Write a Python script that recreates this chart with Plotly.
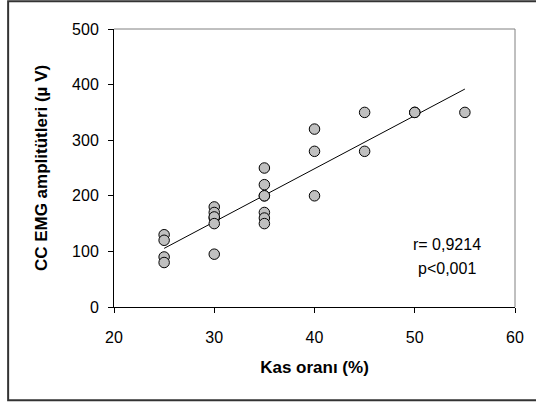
import numpy as np
import plotly.graph_objects as go

# Data
kas_orani = [25, 25, 25, 25,
             30, 30, 30, 30, 30, 30,
             35, 35, 35, 35, 35, 35, 35,
             40, 40, 40,
             45, 45,
             50, 50,
             55]
emg_amp = [130, 120, 90, 80,
           180, 170, 160, 162, 150, 95,
           250, 220, 200, 200, 170, 160, 150,
           320, 280, 200,
           350, 280,
           350, 350,
           350]
r_text = "r= 0,9214"
p_text = "p<0,001"

x_arr = np.array(kas_orani, dtype=float)
y_arr = np.array(emg_amp, dtype=float)
slope, intercept = np.polyfit(x_arr, y_arr, 1)
fit_x = [x_arr.min(), x_arr.max()]
fit_y = [slope * v + intercept for v in fit_x]

fig = go.Figure()
fig.add_trace(go.Scatter(x=fit_x, y=fit_y, mode="lines",
                         line=dict(color="black", width=1), showlegend=False))
fig.add_trace(go.Scatter(x=kas_orani, y=emg_amp, mode="markers",
                         marker=dict(size=10.5, color="#C0C0C0",
                                     line=dict(color="black", width=1)),
                         showlegend=False))

font_family = "Liberation Sans, Arial, sans-serif"

fig.update_layout(
    width=536, height=402,
    margin=dict(l=114, r=17, t=29, b=95),
    paper_bgcolor="white", plot_bgcolor="white",
    font=dict(family=font_family, color="black", size=16),
    xaxis=dict(range=[20, 60], tickvals=[20, 30, 40, 50, 60],
               showgrid=False, zeroline=False,
               showline=True, linecolor="black", linewidth=1,
               ticks="outside", ticklen=5, tickcolor="black",
               ticklabelstandoff=11,
               tickfont=dict(size=16),
               title=dict(text="<b>Kas oranı (%)</b>", font=dict(size=17), standoff=15)),
    yaxis=dict(range=[0, 500], tickvals=[0, 100, 200, 300, 400, 500],
               showgrid=False, zeroline=False,
               showline=True, linecolor="black", linewidth=1,
               ticks="outside", ticklen=5, tickcolor="black",
               ticklabelstandoff=6,
               tickfont=dict(size=16),
               title=dict(text="<b>CC EMG amplitütleri (µ V)</b>", font=dict(size=17), standoff=20)),
    shapes=[
        dict(type="line", xref="paper", yref="paper", x0=0, x1=1, y0=1, y1=1,
             line=dict(color="#808080", width=1)),
        dict(type="line", xref="paper", yref="paper", x0=1, x1=1, y0=0, y1=1,
             line=dict(color="#808080", width=1)),
        dict(type="rect", xref="paper", yref="paper",
             x0=-0.264, x1=1.06, y0=-0.335, y1=1.1,
             line=dict(color="#333333", width=2), fillcolor="rgba(0,0,0,0)", layer="below"),
    ],
    annotations=[
        dict(x=53.2, y=112, xref="x", yref="y", text=r_text, showarrow=False,
             font=dict(size=16)),
        dict(x=53.2, y=70, xref="x", yref="y", text=p_text, showarrow=False,
             font=dict(size=16)),
    ],
)

fig.write_html("out.html", config={"displayModeBar": False},
               post_script="document.body.style.margin='0px';")
